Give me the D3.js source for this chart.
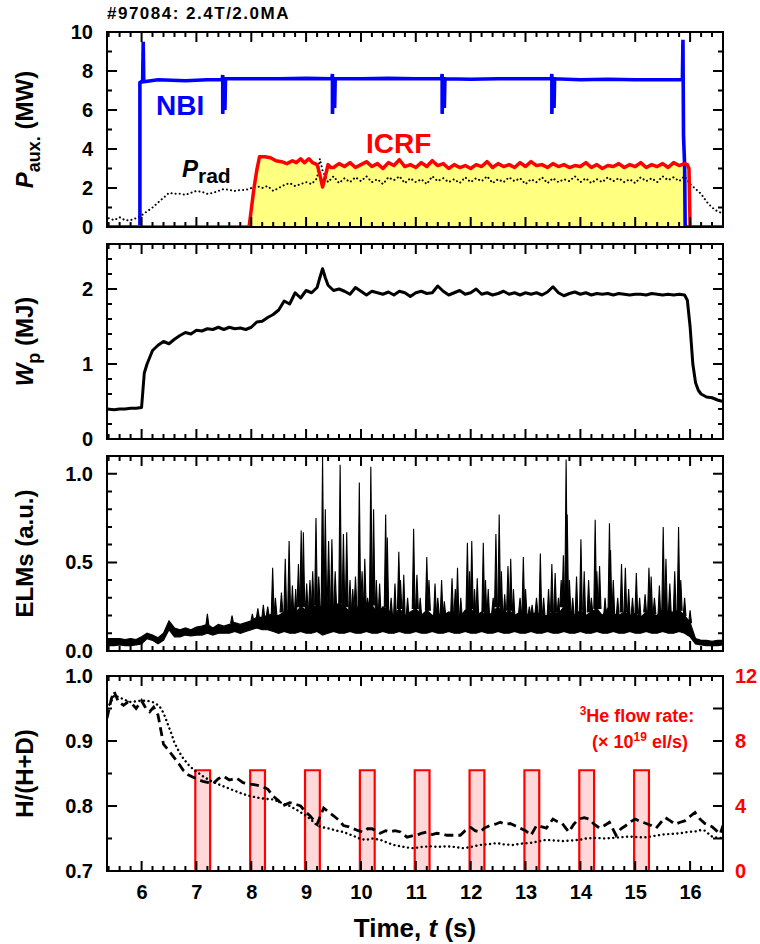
<!DOCTYPE html>
<html>
<head>
<meta charset="utf-8">
<script src="https://cdn.jsdelivr.net/npm/d3@7"></script>
<style>
body { margin: 0; background: #fff; }
svg { display: block; font-family: "Liberation Sans", Arial, Helvetica, sans-serif; font-weight: bold; }
</style>
</head>
<body>
<div id="chart"></div>
<script>
// ---- data (time in s) ----

// NBI power (MW)
var nbiTime  = [5.37, 5.97, 5.97, 6.02, 6.03, 6.04, 6.3, 6.8, 7.2, 7.47, 7.48, 7.48, 7.5, 7.52, 7.52, 7.53, 8.0, 8.5, 9.0, 9.47, 9.48, 9.48, 9.5, 9.52, 9.52, 9.53, 10.0, 10.5, 11.0, 11.47, 11.48, 11.48, 11.5, 11.52, 11.52, 11.53, 12.0, 12.5, 13.0, 13.47, 13.48, 13.48, 13.5, 13.52, 13.52, 13.53, 14.0, 14.5, 15.0, 15.5, 15.86, 15.87, 15.88, 15.9, 15.91, 16.6];
var nbiPower = [0, 0, 7.4, 7.5, 9.5, 7.45, 7.55, 7.5, 7.55, 7.55, 7.8, 5.8, 7.6, 7.6, 6.0, 7.6, 7.6, 7.6, 7.62, 7.6, 7.85, 5.8, 7.6, 7.6, 6.1, 7.6, 7.6, 7.62, 7.6, 7.6, 7.85, 5.8, 7.6, 7.6, 6.1, 7.6, 7.58, 7.6, 7.6, 7.6, 7.85, 5.8, 7.6, 7.6, 6.1, 7.6, 7.55, 7.58, 7.55, 7.55, 7.55, 9.6, 4.7, 3.2, 0, 0];

// ICRF power (MW)
var icrfTime  = [5.37, 7.96, 8.0, 8.05, 8.1, 8.15, 8.25, 8.35, 8.45, 8.55, 8.65, 8.75, 8.82, 8.9, 8.97, 9.05, 9.12, 9.2, 9.25, 9.3, 9.35, 9.4, 9.45,
  9.5, 9.6, 9.7, 9.8, 9.9, 10.0, 10.1, 10.2, 10.3, 10.4, 10.5, 10.6, 10.7, 10.8, 10.9, 11.0, 11.1, 11.2, 11.3, 11.4, 11.5, 11.6, 11.7, 11.8, 11.9,
  12.0, 12.1, 12.2, 12.3, 12.4, 12.5, 12.6, 12.7, 12.8, 12.9, 13.0, 13.1, 13.2, 13.3, 13.4, 13.5, 13.6, 13.7, 13.8, 13.9,
  14.0, 14.1, 14.2, 14.3, 14.4, 14.5, 14.6, 14.7, 14.8, 14.9, 15.0, 15.1, 15.2, 15.3, 15.4, 15.5, 15.6, 15.7, 15.8, 15.9, 15.95, 15.98, 16.0, 16.6];
var icrfPower = [0, 0, 0.9, 2.0, 2.9, 3.6, 3.6, 3.55, 3.4, 3.35, 3.25, 3.4, 3.3, 3.5, 3.3, 3.5, 3.3, 3.2, 2.7, 2.05, 2.6, 3.2, 3.05,
  3.05, 3.25, 3.1, 3.3, 3.05, 3.2, 3.35, 3.1, 3.25, 3.0, 3.3, 3.15, 3.45, 3.1, 3.2, 3.05, 3.3, 3.1, 3.4, 3.15, 3.25, 3.0, 3.2, 3.05, 3.15,
  3.0, 3.2, 3.1, 3.35, 3.05, 3.25, 3.1, 3.2, 3.05, 3.3, 3.1, 3.35, 3.15, 3.2, 3.05, 3.25, 3.1, 3.2, 3.05, 3.15,
  3.1, 3.3, 3.05, 3.2, 3.0, 3.15, 3.1, 3.25, 3.05, 3.2, 3.1, 3.3, 3.05, 3.2, 3.1, 3.25, 3.05, 3.3, 3.15, 3.25, 3.2, 3.0, 0, 0];

// radiated power (MW)
var pradTime  = [5.4, 5.5, 5.6, 5.7, 5.8, 5.9, 6.0, 6.1, 6.2, 6.3, 6.4, 6.5, 6.6, 6.7, 6.8, 6.9, 7.0, 7.1, 7.2, 7.3, 7.4, 7.5, 7.6, 7.7, 7.8, 7.9,
  8.0, 8.1, 8.2, 8.3, 8.4, 8.5, 8.6, 8.7, 8.8, 8.9, 9.0, 9.1, 9.2, 9.25, 9.3, 9.4, 9.5, 9.6, 9.7, 9.8, 9.9,
  10.0, 10.1, 10.2, 10.3, 10.4, 10.5, 10.6, 10.7, 10.8, 10.9, 11.0, 11.1, 11.2, 11.3, 11.4, 11.5, 11.6, 11.7, 11.8, 11.9,
  12.0, 12.1, 12.2, 12.3, 12.4, 12.5, 12.6, 12.7, 12.8, 12.9, 13.0, 13.1, 13.2, 13.3, 13.4, 13.5, 13.6, 13.7, 13.8, 13.9,
  14.0, 14.1, 14.2, 14.3, 14.4, 14.5, 14.6, 14.7, 14.8, 14.9, 15.0, 15.1, 15.2, 15.3, 15.4, 15.5, 15.6, 15.7, 15.8, 15.9,
  16.0, 16.1, 16.2, 16.3, 16.4, 16.5, 16.6];
var pradPower = [0.45, 0.35, 0.5, 0.35, 0.35, 0.45, 0.6, 0.8, 1.0, 1.25, 1.5, 1.75, 1.7, 1.7, 1.65, 1.75, 1.85, 1.8, 1.7, 1.75, 1.85, 1.95, 1.9, 1.85, 1.9, 1.9,
  2.0, 2.1, 2.0, 2.1, 1.85, 2.0, 2.15, 2.25, 2.1, 2.2, 2.3, 2.2, 2.5, 3.5, 2.9, 2.3, 2.6, 2.25, 2.5, 2.3, 2.55,
  2.35, 2.6, 2.3, 2.45, 2.2, 2.55, 2.4, 2.6, 2.25, 2.5, 2.3, 2.45, 2.2, 2.6, 2.35, 2.5, 2.3, 2.45, 2.25, 2.55,
  2.3, 2.5, 2.35, 2.6, 2.25, 2.45, 2.3, 2.55, 2.35, 2.5, 2.2, 2.45, 2.3, 2.55, 2.25, 2.5, 2.3, 2.45, 2.35, 2.6,
  2.3, 2.5, 2.25, 2.45, 2.3, 2.55, 2.35, 2.5, 2.3, 2.45, 2.25, 2.55, 2.35, 2.5, 2.3, 2.6, 2.4, 2.55, 2.35, 2.6,
  2.2, 1.95, 1.7, 1.3, 1.0, 0.8, 0.7];

// stored energy Wp (MJ)
var wpTime   = [5.37, 5.5, 5.6, 5.7, 5.8, 5.9, 6.0, 6.05, 6.1, 6.2, 6.3, 6.4, 6.5, 6.6, 6.7, 6.8, 6.9, 7.0, 7.1, 7.2, 7.3, 7.4, 7.5, 7.6, 7.7, 7.8, 7.9,
  8.0, 8.1, 8.2, 8.3, 8.4, 8.5, 8.6, 8.7, 8.8, 8.9, 9.0, 9.1, 9.2, 9.25, 9.3, 9.35, 9.4, 9.5, 9.6, 9.7, 9.8, 9.9,
  10.0, 10.1, 10.2, 10.3, 10.4, 10.5, 10.6, 10.7, 10.8, 10.9, 11.0, 11.1, 11.2, 11.3, 11.4, 11.5, 11.6, 11.7, 11.8, 11.9,
  12.0, 12.1, 12.2, 12.3, 12.4, 12.5, 12.6, 12.7, 12.8, 12.9, 13.0, 13.1, 13.2, 13.3, 13.4, 13.5, 13.6, 13.7, 13.8, 13.9,
  14.0, 14.1, 14.2, 14.3, 14.4, 14.5, 14.6, 14.7, 14.8, 14.9, 15.0, 15.1, 15.2, 15.3, 15.4, 15.5, 15.6, 15.7, 15.8, 15.9,
  15.95, 16.0, 16.05, 16.1, 16.15, 16.2, 16.3, 16.4, 16.5, 16.6];
var wpEnergy = [0.40, 0.39, 0.40, 0.40, 0.41, 0.41, 0.42, 0.88, 1.0, 1.18, 1.25, 1.3, 1.27, 1.33, 1.38, 1.42, 1.40, 1.45, 1.44, 1.47, 1.46, 1.49, 1.46, 1.49, 1.47, 1.48, 1.46,
  1.49, 1.56, 1.57, 1.62, 1.66, 1.72, 1.84, 1.80, 1.95, 1.88, 1.98, 1.95, 2.02, 2.15, 2.27, 2.15, 2.05, 1.98, 2.0, 1.97, 1.93, 2.02,
  1.97, 1.92, 1.97, 1.95, 1.93, 1.96, 1.92, 1.97, 1.95, 1.9, 1.95, 1.97, 1.94, 1.95, 2.04, 1.97, 1.92, 1.95, 1.98, 1.93,
  1.95, 2.0, 1.93, 1.95, 1.92, 1.94, 1.97, 1.93, 1.95, 1.92, 1.95, 1.93, 1.95, 1.92, 1.96, 2.03, 1.95, 1.91, 1.94, 1.96,
  1.93, 1.95, 1.92, 1.94, 1.93, 1.94, 1.92, 1.94, 1.93, 1.92, 1.93, 1.93, 1.92, 1.94, 1.93, 1.92, 1.93, 1.92, 1.93, 1.92,
  1.85, 1.5, 1.0, 0.75, 0.65, 0.6, 0.56, 0.55, 0.52, 0.5];

// ELM signal: background band (low/high) every 0.1 s
var elmTime = [5.4, 5.5, 5.6, 5.7, 5.8, 5.9, 6.0, 6.1, 6.2, 6.3, 6.4, 6.5, 6.6, 6.7, 6.8, 6.9, 7.0, 7.1, 7.2, 7.3, 7.4, 7.5, 7.6, 7.7, 7.8, 7.9,
  8.0, 8.1, 8.2, 8.3, 8.4, 8.5, 8.6, 8.7, 8.8, 8.9, 9.0, 9.1, 9.2, 9.3, 9.4, 9.5, 9.6, 9.7, 9.8, 9.9,
  10.0, 10.1, 10.2, 10.3, 10.4, 10.5, 10.6, 10.7, 10.8, 10.9, 11.0, 11.1, 11.2, 11.3, 11.4, 11.5, 11.6, 11.7, 11.8, 11.9,
  12.0, 12.1, 12.2, 12.3, 12.4, 12.5, 12.6, 12.7, 12.8, 12.9, 13.0, 13.1, 13.2, 13.3, 13.4, 13.5, 13.6, 13.7, 13.8, 13.9,
  14.0, 14.1, 14.2, 14.3, 14.4, 14.5, 14.6, 14.7, 14.8, 14.9, 15.0, 15.1, 15.2, 15.3, 15.4, 15.5, 15.6, 15.7, 15.8, 15.9,
  16.0, 16.1, 16.2, 16.3, 16.4, 16.5, 16.6];
var elmLow = [0.03, 0.03, 0.035, 0.03, 0.03, 0.035, 0.04, 0.07, 0.06, 0.04, 0.06, 0.12, 0.08, 0.08, 0.09, 0.085, 0.09, 0.09, 0.10, 0.09, 0.10, 0.10, 0.10, 0.11, 0.10, 0.11,
  0.12, 0.13, 0.12, 0.12, 0.11, 0.10, 0.11, 0.10, 0.10, 0.11, 0.10, 0.10, 0.11, 0.09, 0.10, 0.11, 0.10, 0.10, 0.11, 0.10,
  0.10, 0.11, 0.10, 0.10, 0.11, 0.10, 0.10, 0.11, 0.10, 0.10, 0.11, 0.10, 0.10, 0.11, 0.10, 0.10, 0.11, 0.10, 0.10, 0.11,
  0.10, 0.10, 0.11, 0.10, 0.10, 0.11, 0.10, 0.10, 0.11, 0.10, 0.10, 0.11, 0.10, 0.10, 0.11, 0.10, 0.10, 0.11, 0.10, 0.10,
  0.11, 0.10, 0.10, 0.11, 0.10, 0.10, 0.11, 0.10, 0.10, 0.11, 0.10, 0.10, 0.11, 0.10, 0.10, 0.11, 0.10, 0.10, 0.11, 0.10,
  0.08, 0.04, 0.035, 0.03, 0.03, 0.03, 0.035];
var elmHigh = [0.07, 0.07, 0.07, 0.065, 0.07, 0.065, 0.08, 0.10, 0.09, 0.075, 0.10, 0.17, 0.13, 0.12, 0.13, 0.12, 0.135, 0.14, 0.15, 0.13, 0.15, 0.14, 0.15, 0.16, 0.15, 0.16,
  0.17, 0.19, 0.19, 0.20, 0.21, 0.20, 0.22, 0.24, 0.21, 0.25, 0.23, 0.24, 0.26, 0.25, 0.27, 0.25, 0.27, 0.25, 0.22, 0.25,
  0.24, 0.25, 0.26, 0.21, 0.25, 0.23, 0.20, 0.24, 0.20, 0.22, 0.24, 0.20, 0.23, 0.20, 0.21, 0.20, 0.22, 0.21, 0.19, 0.23,
  0.24, 0.20, 0.22, 0.19, 0.22, 0.25, 0.20, 0.23, 0.20, 0.22, 0.21, 0.20, 0.22, 0.20, 0.20, 0.22, 0.21, 0.25, 0.23, 0.20,
  0.23, 0.20, 0.22, 0.24, 0.20, 0.24, 0.21, 0.20, 0.22, 0.20, 0.21, 0.19, 0.22, 0.21, 0.20, 0.24, 0.22, 0.22, 0.23, 0.20,
  0.16, 0.07, 0.06, 0.06, 0.055, 0.06, 0.06];
// individual ELM bursts: time and peak (a.u.)
var elmSpikeTime = [7.2, 7.65, 8.02, 8.12, 8.22, 8.3, 8.39, 8.44, 8.55, 8.62, 8.69, 8.75, 8.81, 8.86, 8.91, 8.95, 9.01, 9.07, 9.12, 9.18, 9.23, 9.30, 9.35, 9.41, 9.47, 9.53,
  9.62, 9.68, 9.74, 9.8, 9.85, 9.9, 9.97, 10.02, 10.07, 10.12, 10.18, 10.23, 10.28, 10.34, 10.45, 10.48, 10.55, 10.62, 10.69, 10.72, 10.78, 10.85, 10.96,
  11.02, 11.08, 11.2, 11.24, 11.35, 11.4, 11.47, 11.52, 11.66, 11.72, 11.76, 11.82, 11.94, 11.98, 12.02, 12.07, 12.12, 12.23, 12.27, 12.32, 12.41, 12.46,
  12.52, 12.56, 12.62, 12.68, 12.73, 12.78, 12.9, 12.96, 13.0, 13.07, 13.12, 13.2, 13.27, 13.33, 13.42, 13.48, 13.54, 13.6, 13.65, 13.69, 13.74, 13.76,
  13.8, 13.86, 13.93, 14.01, 14.07, 14.15, 14.2, 14.27, 14.3, 14.35, 14.45, 14.53, 14.55, 14.6, 14.68, 14.75, 14.82, 14.88, 14.95, 15.02, 15.08, 15.18,
  15.25, 15.29, 15.35, 15.44, 15.51, 15.56, 15.63, 15.72, 15.79, 15.83, 15.9, 16.0];
var elmSpikePeak = [0.21, 0.2, 0.21, 0.24, 0.26, 0.25, 0.47, 0.3, 0.33, 0.52, 0.62, 0.37, 0.35, 0.49, 0.68, 0.67, 0.38, 0.4, 0.45, 0.75, 0.42, 1.1, 0.80, 0.62, 0.63, 0.45,
  1.05, 0.66, 0.67, 0.4, 0.35, 0.42, 0.95, 0.45, 0.52, 0.3, 1.04, 0.8, 0.4, 0.38, 0.77, 0.64, 0.3, 0.38, 0.56, 0.4, 0.43, 0.3, 0.69,
  0.43, 0.3, 0.53, 0.4, 0.38, 0.3, 0.4, 0.28, 0.41, 0.35, 0.47, 0.3, 0.61, 0.45, 0.62, 0.35, 0.41, 0.61, 0.4, 0.35, 0.3, 0.66,
  0.77, 0.45, 0.32, 0.48, 0.52, 0.35, 0.3, 0.53, 0.35, 0.25, 0.26, 0.3, 0.55, 0.3, 0.35, 0.49, 0.44, 0.3, 0.4, 0.54, 1.08, 0.77,
  0.4, 0.3, 0.42, 0.63, 0.45, 0.4, 0.3, 0.74, 0.45, 0.48, 0.3, 0.72, 0.57, 0.4, 0.3, 0.49, 0.47, 0.35, 0.3, 0.44, 0.3, 0.32,
  0.47, 0.42, 0.3, 0.37, 0.70, 0.52, 0.38, 0.45, 0.70, 0.4, 0.3, 0.23];

// H/(H+D), two measurements (dashed and dotted)
var hdDashTime = [5.37, 5.45, 5.5, 5.58, 5.67, 5.75, 5.82, 5.9, 6.0, 6.08, 6.15, 6.22, 6.3, 6.4, 6.5, 6.58, 6.68, 6.76, 6.85, 6.95, 7.05, 7.12, 7.22, 7.3, 7.4, 7.49, 7.6, 7.73, 7.85, 7.95,
  8.05, 8.2, 8.3, 8.4, 8.5, 8.57, 8.7, 8.8, 8.9, 9.0, 9.07, 9.2, 9.32, 9.42, 9.5, 9.6, 9.68, 9.78, 9.86, 9.95, 10.04, 10.12, 10.2, 10.35, 10.45, 10.53, 10.62, 10.72, 10.84, 10.93,
  11.02, 11.1, 11.2, 11.3, 11.38, 11.47, 11.57, 11.7, 11.81, 11.9, 12.0, 12.08, 12.17, 12.25, 12.35, 12.45, 12.54, 12.63, 12.72, 12.8, 12.9, 13.0, 13.1, 13.2, 13.3, 13.38, 13.5, 13.58, 13.67, 13.79,
  13.88, 13.97, 14.07, 14.16, 14.25, 14.35, 14.44, 14.53, 14.65, 14.74, 14.83, 14.92, 15.0, 15.1, 15.2, 15.29, 15.38, 15.47, 15.55, 15.64, 15.73, 15.82, 15.9, 16.0, 16.09, 16.18, 16.27, 16.4, 16.55, 16.6];
var hdDash = [0.935, 0.965, 0.976, 0.96, 0.955, 0.96, 0.958, 0.95, 0.962, 0.95, 0.945, 0.952, 0.94, 0.895, 0.885, 0.876, 0.865, 0.855, 0.848, 0.844, 0.84, 0.838, 0.836, 0.834, 0.842, 0.846, 0.84, 0.843, 0.836, 0.834,
  0.833, 0.83, 0.826, 0.815, 0.808, 0.80, 0.805, 0.803, 0.80, 0.79, 0.785, 0.772, 0.797, 0.79, 0.785, 0.778, 0.77, 0.768, 0.765, 0.762, 0.76, 0.765, 0.765, 0.758, 0.762, 0.76, 0.762, 0.76, 0.752, 0.754,
  0.755, 0.758, 0.76, 0.756, 0.758, 0.757, 0.755, 0.755, 0.755, 0.762, 0.767, 0.762, 0.76, 0.766, 0.77, 0.772, 0.775, 0.772, 0.773, 0.77, 0.766, 0.762, 0.755, 0.77, 0.768, 0.766, 0.78, 0.776, 0.773, 0.76,
  0.772, 0.78, 0.782, 0.78, 0.772, 0.766, 0.77, 0.775, 0.755, 0.765, 0.77, 0.776, 0.78, 0.776, 0.773, 0.77, 0.766, 0.775, 0.782, 0.777, 0.772, 0.775, 0.777, 0.784, 0.79, 0.78, 0.773, 0.768, 0.757, 0.77];
var hdDotTime = [5.37, 5.43, 5.5, 5.6, 5.7, 5.8, 5.9, 6.0, 6.1, 6.2, 6.25, 6.32, 6.37, 6.43, 6.49, 6.55, 6.6, 6.68, 6.77, 6.86, 6.96, 7.05, 7.13, 7.3, 7.5, 7.65, 7.8, 7.95,
  8.1, 8.25, 8.4, 8.55, 8.7, 8.85, 9.0, 9.1, 9.2, 9.32, 9.44, 9.56, 9.68, 9.8, 9.92, 10.0, 10.1, 10.2, 10.35, 10.5, 10.6, 10.72, 10.85, 10.96,
  11.1, 11.26, 11.4, 11.56, 11.7, 11.87, 12.0, 12.17, 12.3, 12.48, 12.6, 12.78, 12.9, 13.08, 13.2, 13.38, 13.5, 13.69, 13.85, 13.99,
  14.1, 14.29, 14.45, 14.6, 14.75, 14.9, 15.05, 15.2, 15.35, 15.5, 15.65, 15.82, 15.95, 16.1, 16.2, 16.27, 16.4, 16.5, 16.6];
var hdDot = [0.95, 0.958, 0.97, 0.967, 0.963, 0.96, 0.961, 0.962, 0.962, 0.96, 0.958, 0.954, 0.948, 0.937, 0.923, 0.91, 0.897, 0.884, 0.872, 0.863, 0.855, 0.85, 0.845, 0.837, 0.83, 0.825, 0.82, 0.816,
  0.813, 0.811, 0.81, 0.805, 0.80, 0.793, 0.785, 0.778, 0.77, 0.767, 0.765, 0.762, 0.76, 0.756, 0.752, 0.749, 0.748, 0.75, 0.748, 0.743, 0.74, 0.738, 0.736, 0.735,
  0.737, 0.738, 0.737, 0.738, 0.737, 0.735, 0.737, 0.74, 0.741, 0.743, 0.741, 0.74, 0.742, 0.743, 0.745, 0.748, 0.747, 0.746, 0.747, 0.748,
  0.75, 0.751, 0.75, 0.751, 0.752, 0.753, 0.752, 0.752, 0.754, 0.756, 0.757, 0.758, 0.76, 0.761, 0.763, 0.762, 0.753, 0.751, 0.751];

// 3He puffs: on/off time and flow rate (1e19 el/s)
var flowOn   = [6.98, 7.98, 8.98, 9.98, 10.98, 11.98, 12.98, 13.98, 14.98];
var flowOff  = [7.25, 8.25, 9.25, 10.25, 11.25, 12.25, 13.25, 14.25, 15.25];
var flowRate = [6.2, 6.2, 6.2, 6.2, 6.2, 6.2, 6.2, 6.2, 6.2];

// axis ticks
var xMajor = [6, 7, 8, 9, 10, 11, 12, 13, 14, 15, 16];
var xMinor = d3.range(27, 84).map(function(i) { return i * 0.2; });

// ---- layout ----
var svgWidth = 760, svgHeight = 944;
var left = 107, right = 723, panelH = 195;
var tops = [32, 244, 456, 676];
var fontSans = '"Liberation Sans", Arial, Helvetica, sans-serif';

var svg = d3.select("#chart").append("svg")
  .attr("width", svgWidth)
  .attr("height", svgHeight);

var x = d3.scaleLinear().domain([5.37, 16.6]).range([left, right]);

function makePanel(i, domain) {
  var top = tops[i], bottom = top + panelH;
  var y = d3.scaleLinear().domain(domain).range([bottom, top]);
  svg.append("clipPath").attr("id", "clip" + i)
    .append("rect").attr("x", left).attr("y", top).attr("width", right - left).attr("height", panelH);
  var plot = svg.append("g").attr("clip-path", "url(#clip" + i + ")");
  return { y: y, plot: plot, top: top, bottom: bottom };
}

function series(tArr, vArr) {
  return tArr.map(function(t, i) { return [t, vArr[i]]; });
}

function isWhole(v) { return Math.abs(v - Math.round(v)) < 1e-6; }

// frame and inward ticks as one path, labels through d3 axes
function drawAxes(p, major, minor, fmt, xLabels, rightScale, rightTicks) {
  var ax = svg.append("g");
  var d = "M" + left + "," + p.top + "H" + right + "V" + p.bottom + "H" + left + "Z";
  xMinor.forEach(function(t) {
    var len = isWhole(t) ? 10 : 5;
    var xx = Math.round(x(t) * 10) / 10;
    d += "M" + xx + "," + p.bottom + "V" + (p.bottom - len);
    d += "M" + xx + "," + p.top + "V" + (p.top + len);
  });
  major.forEach(function(v) {
    var yy = Math.round(p.y(v) * 10) / 10;
    d += "M" + left + "," + yy + "H" + (left + 10);
    if (!rightScale) d += "M" + right + "," + yy + "H" + (right - 10);
  });
  minor.forEach(function(v) {
    var yy = Math.round(p.y(v) * 10) / 10;
    d += "M" + left + "," + yy + "H" + (left + 5);
    if (!rightScale) d += "M" + right + "," + yy + "H" + (right - 5);
  });
  if (rightScale) {
    rightTicks.forEach(function(v) {
      var yy = Math.round(rightScale(v) * 10) / 10;
      d += "M" + right + "," + yy + "H" + (right - 10);
    });
  }
  ax.append("path").attr("d", d)
    .attr("fill", "none").attr("stroke", "#000").attr("stroke-width", 2);

  ax.append("g").attr("transform", "translate(" + left + ",0)")
    .call(d3.axisLeft(p.y).tickValues(major).tickSize(0).tickPadding(14).tickFormat(fmt));
  if (xLabels) {
    ax.append("g").attr("transform", "translate(0," + p.bottom + ")")
      .call(d3.axisBottom(x).tickValues(xMajor).tickSize(0).tickPadding(14).tickFormat(d3.format("d")));
  }
  ax.selectAll(".domain").remove();
  ax.selectAll("g").attr("font-family", fontSans).attr("font-size", 20);
  ax.selectAll(".tick text").attr("fill", "#000");
}

// ---- panel 1: auxiliary heating ----
var p1 = makePanel(0, [0, 10]);
var icrf = series(icrfTime, icrfPower);
p1.plot.append("path").datum(icrf)
  .attr("fill", "#ffff80")
  .attr("d", d3.area().x(function(d) { return x(d[0]); }).y0(p1.y(0)).y1(function(d) { return p1.y(d[1]); }));
p1.plot.append("path").datum(series(pradTime, pradPower))
  .attr("fill", "none").attr("stroke", "#000").attr("stroke-width", 2)
  .attr("stroke-linecap", "round").attr("stroke-dasharray", "0.1,4")
  .attr("d", d3.line().x(function(d) { return x(d[0]); }).y(function(d) { return p1.y(d[1]); }));
p1.plot.append("path").datum(series(nbiTime, nbiPower))
  .attr("fill", "none").attr("stroke", "#0000ff").attr("stroke-width", 3.6)
  .attr("d", d3.line().x(function(d) { return x(d[0]); }).y(function(d) { return p1.y(d[1]); }));
p1.plot.append("path").datum(icrf)
  .attr("fill", "none").attr("stroke", "#ff0000").attr("stroke-width", 3.5).attr("stroke-linejoin", "round")
  .attr("d", d3.line().x(function(d) { return x(d[0]); }).y(function(d) { return p1.y(d[1]); }));

svg.append("text").attr("x", 156).attr("y", 115).attr("font-size", 28).attr("fill", "#0000ff").text("NBI");
svg.append("text").attr("x", 366).attr("y", 153).attr("font-size", 28).attr("fill", "#ff0000").text("ICRF");
var pr = svg.append("text").attr("x", 182).attr("y", 177).attr("font-size", 24);
pr.append("tspan").attr("font-style", "italic").text("P");
pr.append("tspan").attr("font-size", 21).attr("dy", 6).text("rad");

svg.append("text").attr("x", 107).attr("y", 19).attr("font-size", 17).attr("letter-spacing", 1.5)
  .text("#97084: 2.4T/2.0MA");

// ---- panel 2: stored energy ----
var p2 = makePanel(1, [0, 2.6]);
p2.plot.append("path").datum(series(wpTime, wpEnergy))
  .attr("fill", "none").attr("stroke", "#000").attr("stroke-width", 3).attr("stroke-linejoin", "round")
  .attr("d", d3.line().x(function(d) { return x(d[0]); }).y(function(d) { return p2.y(d[1]); }));

// ---- panel 3: ELMs ----
var p3 = makePanel(2, [0, 1.1]);
var band = elmTime.map(function(t, i) { return [t, elmLow[i], elmHigh[i]]; });
p3.plot.append("path").datum(band)
  .attr("fill", "#000").attr("stroke", "#000").attr("stroke-width", 1.2)
  .attr("d", d3.area().x(function(d) { return x(d[0]); })
    .y0(function(d) { return p3.y(d[1]); }).y1(function(d) { return p3.y(d[2]); }));
var bisect = d3.bisector(function(d) { return d; }).center;
p3.plot.selectAll("path.spike").data(series(elmSpikeTime, elmSpikePeak)).enter().append("path")
  .attr("class", "spike")
  .attr("fill", "#000").attr("stroke", "#000").attr("stroke-width", 1.1)
  .attr("d", function(d) {
    var base = elmHigh[bisect(elmTime, d[0])];
    return "M" + x(d[0] - 0.025) + "," + p3.y(base) +
      "L" + x(d[0]) + "," + p3.y(d[1]) +
      "L" + x(d[0] + 0.025) + "," + p3.y(base) + "Z";
  });

// ---- panel 4: H/(H+D) and 3He puffing ----
var p4 = makePanel(3, [0.7, 1.0]);
var y2 = d3.scaleLinear().domain([0, 12]).range([p4.bottom, p4.top]);
p4.plot.selectAll("rect.puff").data(flowOn).enter().append("rect")
  .attr("class", "puff")
  .attr("x", function(d) { return x(d); })
  .attr("width", function(d, i) { return x(flowOff[i]) - x(d); })
  .attr("y", function(d, i) { return y2(flowRate[i]); })
  .attr("height", function(d, i) { return y2(0) - y2(flowRate[i]); })
  .attr("fill", "#ffd9d9");
var flowPts = [[5.37, 0]];
flowOn.forEach(function(t, i) {
  flowPts.push([t, 0], [t, flowRate[i]], [flowOff[i], flowRate[i]], [flowOff[i], 0]);
});
flowPts.push([16.6, 0]);
p4.plot.append("path").datum(flowPts)
  .attr("fill", "none").attr("stroke", "#ff0000").attr("stroke-width", 2.2)
  .attr("d", d3.line().x(function(d) { return x(d[0]); }).y(function(d) { return y2(d[1]); }));
p4.plot.append("path").datum(series(hdDotTime, hdDot))
  .attr("fill", "none").attr("stroke", "#000").attr("stroke-width", 2.4)
  .attr("stroke-linecap", "round").attr("stroke-dasharray", "0.1,4.5")
  .attr("d", d3.line().x(function(d) { return x(d[0]); }).y(function(d) { return p4.y(d[1]); }));
p4.plot.append("path").datum(series(hdDashTime, hdDash))
  .attr("fill", "none").attr("stroke", "#000").attr("stroke-width", 2.8)
  .attr("stroke-dasharray", "9,5")
  .attr("d", d3.line().x(function(d) { return x(d[0]); }).y(function(d) { return p4.y(d[1]); }));

var rAx = svg.append("g").attr("transform", "translate(" + right + ",0)")
  .call(d3.axisRight(y2).tickValues([0, 4, 8, 12]).tickSize(0).tickPadding(12).tickFormat(d3.format("d")));
rAx.select(".domain").remove();
rAx.attr("font-family", fontSans).attr("font-size", 20);
rAx.selectAll(".tick text").attr("fill", "#ff0000");

var he1 = svg.append("text").attr("x", 637).attr("y", 722).attr("text-anchor", "middle")
  .attr("font-size", 18).attr("fill", "#ff0000");
he1.append("tspan").attr("font-size", 12).attr("dy", -7).text("3");
he1.append("tspan").attr("dy", 7).text("He flow rate:");
var he2 = svg.append("text").attr("x", 640).attr("y", 748).attr("text-anchor", "middle")
  .attr("font-size", 18).attr("fill", "#ff0000");
he2.append("tspan").text("(\u00d7 10");
he2.append("tspan").attr("font-size", 12).attr("dy", -7).text("19");
he2.append("tspan").attr("dy", 7).text(" el/s)");

// ---- axis titles ----
function yTitle(cy, main, sub, rest) {
  var t = svg.append("text")
    .attr("transform", "translate(33," + cy + ") rotate(-90)")
    .attr("text-anchor", "middle").attr("font-size", 24);
  if (sub) {
    t.append("tspan").attr("font-style", "italic").text(main);
    t.append("tspan").attr("font-size", 18).attr("dy", 7).text(sub);
    t.append("tspan").attr("dy", -7).text(rest);
  } else {
    t.text(main);
  }
}
yTitle(tops[0] + panelH / 2, "P", "aux.", " (MW)");
yTitle(tops[1] + panelH / 2, "W", "p", " (MJ)");
yTitle(tops[2] + panelH / 2, "ELMs (a.u.)");
yTitle(tops[3] + panelH / 2, "H/(H+D)");

var xt = svg.append("text").attr("x", (left + right) / 2).attr("y", 937)
  .attr("text-anchor", "middle").attr("font-size", 26);
xt.append("tspan").text("Time, ");
xt.append("tspan").attr("font-style", "italic").text("t");
xt.append("tspan").text(" (s)");

// ---- frames and ticks last, on top of every panel ----
drawAxes(p1, [0, 2, 4, 6, 8, 10], [1, 3, 5, 7, 9], d3.format("d"), false);
drawAxes(p2, [0, 1, 2], [0.2, 0.4, 0.6, 0.8, 1.2, 1.4, 1.6, 1.8, 2.2, 2.4], d3.format("d"), false);
drawAxes(p3, [0, 0.5, 1.0], [0.1, 0.2, 0.3, 0.4, 0.6, 0.7, 0.8, 0.9, 1.1], d3.format(".1f"), false);
drawAxes(p4, [0.7, 0.8, 0.9, 1.0], [0.75, 0.85, 0.95], d3.format(".1f"), true, y2, [2, 4, 6, 8, 10]);
</script>
</body>
</html>
